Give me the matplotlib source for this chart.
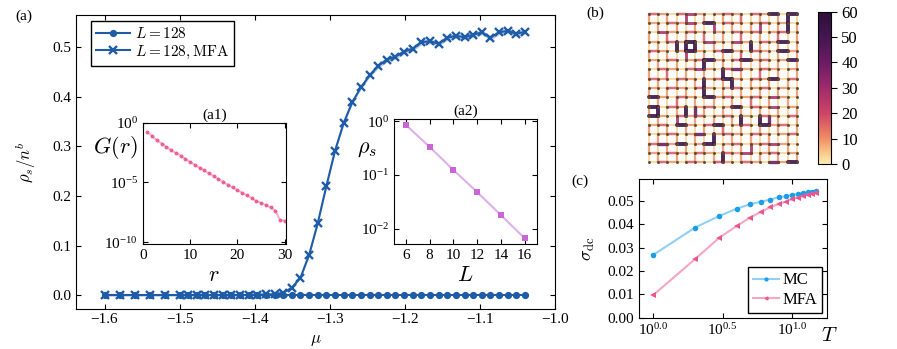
import matplotlib
matplotlib.use('Agg')
import matplotlib.pyplot as plt
import numpy as np
from matplotlib.collections import LineCollection
from matplotlib.colors import LinearSegmentedColormap, Normalize
from matplotlib.ticker import FixedLocator, FixedFormatter, NullLocator

plt.rcParams['font.family'] = ['Liberation Serif', 'DejaVu Serif']
plt.rcParams['mathtext.fontset'] = 'cm'
plt.rcParams['font.size'] = 11
plt.rcParams['xtick.direction'] = 'in'
plt.rcParams['ytick.direction'] = 'in'
plt.rcParams['xtick.top'] = True
plt.rcParams['ytick.right'] = True
plt.rcParams['axes.linewidth'] = 0.8

# (a) superfluid stiffness vs chemical potential
mu = [-1.600, -1.580, -1.560, -1.540, -1.520,
      -1.5000, -1.4885, -1.4770, -1.4655, -1.4540, -1.4425, -1.4310, -1.4195,
      -1.4080, -1.3965, -1.3850, -1.3735, -1.3620, -1.3505, -1.3390, -1.3275,
      -1.3160, -1.3045, -1.2930, -1.2815, -1.2700, -1.2585, -1.2470, -1.2355,
      -1.2240, -1.2125, -1.2010, -1.1895, -1.1780, -1.1665, -1.1550, -1.1435,
      -1.1320, -1.1205, -1.1090, -1.0975, -1.0860, -1.0745, -1.0630, -1.0515,
      -1.0400]
rho_mc = [0.0, 0.0, 0.0, 0.0, 0.0,
          0.0, 0.0, 0.0, 0.0, 0.0, 0.0, 0.0, 0.0,
          0.0, 0.0, 0.0, 0.0, 0.0, 0.0, 0.0, 0.0,
          0.0, 0.0, 0.0, 0.0, 0.0, 0.0, 0.0, 0.0,
          0.0, 0.0, 0.0, 0.0, 0.0, 0.0, 0.0, 0.0,
          0.0, 0.0, 0.0, 0.0, 0.0, 0.0, 0.0, 0.0,
          0.0]
rho_mfa = [0.0, 0.0, 0.0, 0.0, 0.0,
           0.0, 0.0, 0.0, 0.0, 0.0, 0.0, 0.0, 0.0,
           0.0005, 0.001, 0.0015, 0.002, 0.005, 0.015, 0.035, 0.081,
           0.145, 0.220, 0.291, 0.347, 0.389, 0.419, 0.443, 0.462,
           0.475, 0.481, 0.491, 0.497, 0.510, 0.512, 0.507, 0.519,
           0.523, 0.520, 0.525, 0.530, 0.519, 0.530, 0.533, 0.527,
           0.531]
rho_mfa_err = [0.0, 0.0, 0.0, 0.0, 0.0,
               0.0, 0.0, 0.0, 0.0, 0.0, 0.0, 0.0, 0.0,
               0.0, 0.0, 0.0, 0.0, 0.001, 0.001, 0.002, 0.003,
               0.003, 0.004, 0.004, 0.004, 0.004, 0.004, 0.004, 0.005,
               0.005, 0.005, 0.005, 0.005, 0.005, 0.005, 0.005, 0.005,
               0.005, 0.005, 0.005, 0.005, 0.005, 0.005, 0.005, 0.005,
               0.005]

# (a1) correlation function
r_vals = list(range(1, 31))
g_vals = [1.66e-1, 7.2e-2, 3.35e-2, 1.78e-2, 9.3e-3, 4.9e-3, 2.95e-3, 1.78e-3,
          9.3e-4, 5.2e-4, 2.95e-4, 1.66e-4, 1.0e-4, 5.6e-5, 3.35e-5, 1.88e-5,
          1.12e-5, 6.3e-6, 3.8e-6, 2.3e-6, 1.38e-6, 8.1e-7, 4.9e-7, 2.75e-7,
          1.9e-7, 1.29e-7, 8.1e-8, 4.4e-8, 7.2e-9, 6.3e-9]

# (a2) stiffness vs system size
L_vals = [6, 8, 10, 12, 14, 16]
rho_L = [0.86, 0.335, 0.124, 0.048, 0.0178, 0.0066]

# (c) dc conductivity vs temperature
T_vals = [1, 2, 3, 4, 5, 6, 7, 8, 9, 10, 11, 12, 13, 14, 15]
sigma_mc = [0.0269, 0.0386, 0.0436, 0.0467, 0.0486, 0.0497, 0.0506, 0.0516,
            0.0520, 0.0526, 0.0530, 0.0534, 0.0537, 0.0540, 0.0543]
sigma_mfa = [0.0097, 0.0251, 0.0343, 0.0393, 0.0429, 0.0454, 0.0473, 0.0487,
             0.0497, 0.0507, 0.0514, 0.0521, 0.0527, 0.0531, 0.0536]

# (b) bond snapshot on a 17x17 site lattice, level codes 0..5
h_bonds = ["2102310121021505",
           "1021305021012010",
           "0310210102120120",
           "1021503103102150",
           "2101510251021051",
           "1020125102512015",
           "0210231024102101",
           "2102101251021502",
           "1021021012012010",
           "5102105120120310",
           "5021012015021301",
           "5102120120102102",
           "1205102501205120",
           "0120140121021012",
           "2415015012012310",
           "1021021021301201",
           "0210210210210415"]
v_bonds = ["10103010102010150",
           "01010103010130151",
           "10201020102010201",
           "01055501010510101",
           "10103010102010101",
           "01010150101010101",
           "10201010501020101",
           "01010150150101010",
           "10101050101010101",
           "01020101010201010",
           "15015410101010101",
           "01030101015054101",
           "10101010201010101",
           "01010105010101010",
           "10101010101301010",
           "01010101501010101"]
level_value = {'0': 3, '1': 9, '2': 16, '3': 27, '4': 40, '5': 56}

blue = '#1f5ca8'
matter = LinearSegmentedColormap.from_list('matter', [
    (0.0, '#fdedb0'), (0.08, '#f8c487'), (0.17, '#ef8c63'), (0.33, '#cf4566'),
    (0.5, '#9e2b6c'), (0.67, '#6c1b63'), (0.83, '#45164f'), (1.0, '#2f0f3d')])

fig = plt.figure(figsize=(8.97, 3.49), dpi=100)

# main panel
ax = fig.add_axes([0.0847, 0.116, 0.534, 0.841])
mfa = np.array(rho_mfa)
err = np.array(rho_mfa_err)
ax.fill_between(mu, mfa - err, mfa + err, color=blue, alpha=0.3, lw=0)
ax.plot(mu, rho_mc, '-o', color=blue, ms=4.2, lw=1.5, label=r'$L=128$')
ax.plot(mu, rho_mfa, '-x', color=blue, ms=5.5, mew=1.7, lw=1.5, label=r'$L=128, \mathrm{MFA}$')
ax.set_xlim(-1.638, -1.0)
ax.set_xlabel(r'$\mu$', fontsize=12)
ax.set_ylabel(r'$\rho_s/n^b$', fontsize=12, labelpad=10)
ax.legend(loc='upper left', bbox_to_anchor=(0.025, 0.99), fancybox=False,
          edgecolor='black', framealpha=1, fontsize=11, handlelength=2.2,
          borderpad=0.35, labelspacing=0.15, handletextpad=0.3, borderaxespad=0.2)

# inset a1
ax1 = fig.add_axes([0.1591, 0.3009, 0.1594, 0.3476])
ax1.plot(r_vals, g_vals, '-', color='#f7b3cc', lw=1.5)
ax1.plot(r_vals, g_vals, 'o', color='#ee5f98', ms=2.8, mew=0)
ax1.set_yscale('log')
ax1.set_xlim(0, 30.2)
ax1.set_ylim(10 ** -10.15, 1.0)
ax1.yaxis.set_major_locator(FixedLocator([1e-10, 1e-5, 1e0]))
ax1.yaxis.set_minor_locator(NullLocator())
ax1.set_xticks([0, 10, 20, 30])
ax1.set_title('(a1)', fontsize=11, pad=3)
ax1.set_xlabel(r'$r$', fontsize=16)
ax1.set_ylabel(r'$G(r)$', fontsize=16, rotation=0)
ax1.yaxis.set_label_coords(-0.19, 0.68)

# inset a2
ax2 = fig.add_axes([0.4392, 0.3009, 0.1591, 0.3573])
ax2.plot(L_vals, rho_L, '-', color='#ddb0ea', lw=1.5)
ax2.plot(L_vals, rho_L, 's', color='#c965d6', ms=4.5, mew=0)
ax2.set_yscale('log')
ax2.set_xlim(5, 17)
ax2.yaxis.set_major_locator(FixedLocator([1e-2, 1e-1, 1e0]))
ax2.yaxis.set_minor_locator(NullLocator())
ax2.set_xticks(L_vals)
ax2.set_title('(a2)', fontsize=11, pad=3)
ax2.set_xlabel(r'$L$', fontsize=16)
ax2.set_ylabel(r'$\rho_s$', fontsize=16, rotation=0)
ax2.yaxis.set_label_coords(-0.19, 0.68)

# panel b: bond lattice
axb = fig.add_axes([0.7204, 0.5278, 0.1712, 0.4401])
segs = []
vals = []
for j, row in enumerate(h_bonds):
    for i, c in enumerate(row):
        segs.append([(i, 16 - j), (i + 1, 16 - j)])
        vals.append(level_value[c])
for j, row in enumerate(v_bonds):
    for i, c in enumerate(row):
        segs.append([(i, 16 - j), (i, 15 - j)])
        vals.append(level_value[c])
order = np.argsort(vals, kind='stable')
segs = [segs[k] for k in order]
vals = np.array(vals)[order]
norm = Normalize(0, 60)
lc = LineCollection(segs, cmap=matter, norm=norm, linewidths=1.4 + vals / 60 * 1.5,
                    capstyle='round', alpha=0.9)
lc.set_array(vals)
axb.add_collection(lc)
sx, sy = np.meshgrid(np.arange(17), np.arange(17))
axb.scatter(sx.ravel(), sy.ravel(), s=4.5, color='#5b4a38', linewidths=0, zorder=3)
axb.set_xlim(-0.3, 16.3)
axb.set_ylim(-0.3, 16.3)
axb.axis('off')

cax = fig.add_axes([0.9116, 0.530, 0.0145, 0.4364])
cb = fig.colorbar(plt.cm.ScalarMappable(norm=norm, cmap=matter), cax=cax)
cb.set_ticks([0, 10, 20, 30, 40, 50, 60])
cb.ax.tick_params(direction='out', labelsize=12, length=4, right=True)
cb.outline.set_linewidth(0.8)

# panel c
axc = fig.add_axes([0.7127, 0.0897, 0.2096, 0.3974])
axc.plot(T_vals, sigma_mc, '-', color='#8fd0f4', lw=1.5)
axc.plot(T_vals, sigma_mc, 'o', color='#1b9ee8', ms=4, mew=0)
axc.plot(T_vals, sigma_mfa, '-', color='#f5a6c2', lw=1.5)
axc.plot(T_vals, sigma_mfa, '<', color='#e9558e', ms=4.5, mew=0)
axc.plot([], [], '-o', color='#8fd0f4', mfc='#1b9ee8', mec='#1b9ee8', ms=2, lw=1.5, label='MC')
axc.plot([], [], '-<', color='#f5a6c2', mfc='#e9558e', mec='#e9558e', ms=2, lw=1.5, label='MFA')
axc.set_xscale('log')
axc.set_xlim(10 ** -0.101, 10 ** 1.255)
axc.set_ylim(0, 0.0594)
axc.xaxis.set_major_locator(FixedLocator([1.0, 10 ** 0.5, 10.0]))
axc.xaxis.set_major_formatter(FixedFormatter([r'$\mathdefault{10^{0.0}}$',
                                              r'$\mathdefault{10^{0.5}}$',
                                              r'$\mathdefault{10^{1.0}}$']))
axc.xaxis.set_minor_locator(NullLocator())
axc.set_yticks([0.0, 0.01, 0.02, 0.03, 0.04, 0.05])
axc.set_xlabel(r'$T$', fontsize=15)
axc.xaxis.set_label_coords(1.01, -0.07)
axc.set_ylabel(r'$\sigma_{\rm dc}$', fontsize=13, labelpad=8)
axc.legend(loc='lower right', fancybox=False, edgecolor='black', framealpha=1,
           fontsize=12, handlelength=1.6, borderpad=0.3, labelspacing=0.2,
           handletextpad=0.2, borderaxespad=0.3)

fig.text(24 / 897, 1 - 16 / 349, '(a)', ha='center', va='center', fontsize=11)
fig.text(595 / 897, 1 - 13 / 349, '(b)', ha='center', va='center', fontsize=11)
fig.text(580 / 897, 1 - 181 / 349, '(c)', ha='center', va='center', fontsize=11)

fig.savefig('out.png', dpi=100)
